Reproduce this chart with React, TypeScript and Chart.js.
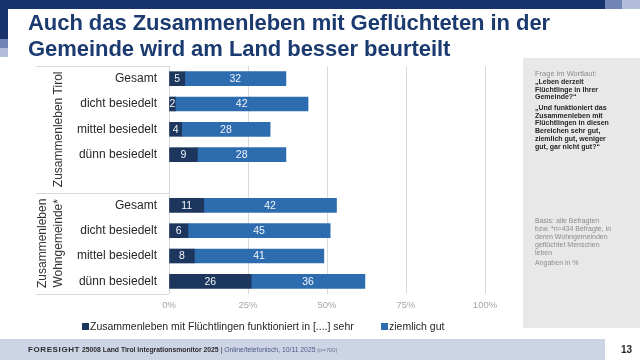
import React, { useEffect, useRef } from "react";
import { Chart, registerables } from "chart.js";

Chart.register(...registerables);

const categories = [
  "Gesamt",
  "dicht besiedelt",
  "mittel besiedelt",
  "dünn besiedelt",
  "",
  "Gesamt",
  "dicht besiedelt",
  "mittel besiedelt",
  "dünn besiedelt",
];
const sehrGut = [5, 2, 4, 9, null, 11, 6, 8, 26];
const ziemlichGut = [32, 42, 28, 28, null, 42, 45, 41, 36];
const seriesNames = [
  "Zusammenleben mit Flüchtlingen funktioniert in [....] sehr",
  "ziemlich gut",
];
const xTickValues = [0, 25, 50, 75, 100];
const groupLabels = [["Zusammenleben Tirol"], ["Zusammenleben", "Wohngemeinde*"]];
const titleLines = [
  "Auch das Zusammenleben mit Geflüchteten in der",
  "Gemeinde wird am Land besser beurteilt",
];
const frageLabel = "Frage im Wortlaut:";
const frage1 = ["„Leben derzeit", "Flüchtlinge in Ihrer", "Gemeinde?“"];
const frage2 = [
  "„Und funktioniert das",
  "Zusammenleben mit",
  "Flüchtlingen in diesen",
  "Bereichen sehr gut,",
  "ziemlich gut, weniger",
  "gut, gar nicht gut?“",
];
const basisLines = [
  "Basis: alle Befragten",
  "bzw. *n=434 Befragte, in",
  "deren Wohngemeinden",
  "geflüchtet Menschen",
  "leben",
];
const angaben = "Angaben in %";
const pageNumber = "13";

const FONT = "'Liberation Sans', Arial, sans-serif";
const DARK = "#1c365d";
const BLUE = "#2e6cb0";
const GRID = "#d9d9d9";

const overlayPlugin = {
  id: "overlay",
  afterDatasetsDraw(chart: any) {
    const ctx = chart.ctx as CanvasRenderingContext2D;
    ctx.save();
    // value labels
    ctx.font = `10.5px ${FONT}`;
    ctx.fillStyle = "#f2f5fa";
    ctx.textAlign = "center";
    ctx.textBaseline = "middle";
    chart.data.datasets.forEach((ds: any, di: number) => {
      const meta = chart.getDatasetMeta(di);
      meta.data.forEach((bar: any, i: number) => {
        const v = ds.data[i];
        if (v == null) return;
        const p = bar.getProps(["x", "base", "y"], true);
        ctx.fillText(String(v), (p.x + p.base) / 2, p.y + 0.5);
      });
    });

    // label box
    const { top, bottom, left } = chart.chartArea;
    const ys = chart.scales.y;
    const div = (ys.getPixelForValue(4) + ys.getPixelForValue(5)) / 2;
    ctx.strokeStyle = GRID;
    ctx.lineWidth = 1;
    const bx = 36;
    [top, div, bottom].forEach((yy) => {
      const y = Math.round(yy) + 0.5;
      ctx.beginPath();
      ctx.moveTo(bx, y);
      ctx.lineTo(left, y);
      ctx.stroke();
    });

    // group labels (rotated)
    ctx.fillStyle = "#333333";
    ctx.font = `12px ${FONT}`;
    const centers = [(top + div) / 2, (div + bottom) / 2];
    const colX = [[58.5], [43, 58.5]];
    groupLabels.forEach((lines, gi) => {
      lines.forEach((txt, li) => {
        ctx.save();
        ctx.translate(colX[gi][li], centers[gi]);
        ctx.rotate(-Math.PI / 2);
        ctx.fillText(txt, 0, 0);
        ctx.restore();
      });
    });
    ctx.restore();
  },
};

function ChartCanvas() {
  const ref = useRef<HTMLCanvasElement | null>(null);
  useEffect(() => {
    if (!ref.current) return;
    const chart = new Chart(ref.current, {
      type: "bar",
      data: {
        labels: categories,
        datasets: [
          {
            label: seriesNames[0],
            data: sehrGut,
            backgroundColor: DARK,
            barThickness: 14,
          },
          {
            label: seriesNames[1],
            data: ziemlichGut,
            backgroundColor: BLUE,
            barThickness: 14,
          },
        ],
      },
      options: {
        indexAxis: "y",
        responsive: false,
        animation: false,
        layout: { padding: { left: 0, right: 155, top: 66, bottom: 0 } },
        plugins: {
          legend: { display: false },
          tooltip: { enabled: false },
        },
        scales: {
          x: {
            stacked: true,
            min: 0,
            max: 100,
            afterBuildTicks: (s: any) => {
              s.ticks = xTickValues.map((v) => ({ value: v }));
            },
            ticks: {
              callback: (v: any) => `${v}%`,
              color: "#a6a6a6",
              font: { size: 9.5, family: FONT },
              padding: 6,
            },
            grid: { color: GRID, drawTicks: false, tickLength: 0 },
            border: { display: false },
            afterFit: (s: any) => {
              s.height = 66;
            },
          },
          y: {
            stacked: true,
            grid: { display: false, drawTicks: false, tickLength: 0 },
            border: { display: false },
            ticks: {
              color: "#262626",
              font: { size: 12, family: FONT },
              padding: 12,
              autoSkip: false,
            },
            afterFit: (s: any) => {
              s.width = 169;
            },
          },
        },
      } as any,
      plugins: [overlayPlugin],
    });
    return () => chart.destroy();
  }, []);
  return (
    <canvas
      ref={ref}
      width={640}
      height={360}
      style={{ position: "absolute", left: 0, top: 0, width: 640, height: 360 }}
    />
  );
}

const abs = (s: React.CSSProperties): React.CSSProperties => ({ position: "absolute", ...s });

export default function App() {
  return (
    <div
      style={{
        position: "fixed",
        left: 0,
        top: 0,
        width: 640,
        height: 360,
        overflow: "hidden",
        background: "#ffffff",
        fontFamily: FONT,
      }}
    >
      {/* decorations */}
      <div style={abs({ left: 0, top: 0, width: 605, height: 9, background: "#18336b" })} />
      <div style={abs({ left: 605, top: 0, width: 17, height: 9, background: "#7085b5" })} />
      <div style={abs({ left: 622, top: 0, width: 18, height: 9, background: "#b3bedb" })} />
      <div style={abs({ left: 0, top: 0, width: 8, height: 39, background: "#18336b" })} />
      <div style={abs({ left: 0, top: 39, width: 8, height: 9, background: "#7085b5" })} />
      <div style={abs({ left: 0, top: 48, width: 8, height: 9, background: "#b3bedb" })} />

      {/* right panel */}
      <div style={abs({ left: 523, top: 58, width: 117, height: 270, background: "#e8e8e8" })} />

      <ChartCanvas />

      {/* title */}
      <div
        style={abs({
          left: 28,
          top: 10,
          fontSize: 22,
          lineHeight: "26px",
          fontWeight: 700,
          color: "#1b3a6f",
          whiteSpace: "nowrap",
          letterSpacing: -0.05,
        })}
      >
        {titleLines[0]}
        <br />
        {titleLines[1]}
      </div>

      {/* panel text */}
      <div style={abs({ left: 535, top: 70, fontSize: 7.5, lineHeight: "8px", color: "#8c8c8c", whiteSpace: "nowrap" })}>
        {frageLabel}
      </div>
      <div style={abs({ left: 535, top: 77.8, fontSize: 7, lineHeight: "7.8px", fontWeight: 700, color: "#262626", whiteSpace: "nowrap" })}>
        {frage1.map((l, i) => (
          <div key={i}>{l}</div>
        ))}
      </div>
      <div style={abs({ left: 535, top: 103.8, fontSize: 7, lineHeight: "7.8px", fontWeight: 700, color: "#262626", whiteSpace: "nowrap" })}>
        {frage2.map((l, i) => (
          <div key={i}>{l}</div>
        ))}
      </div>
      <div style={abs({ left: 535, top: 216.6, fontSize: 7, lineHeight: "8.2px", color: "#8c8c8c", whiteSpace: "nowrap" })}>
        {basisLines.map((l, i) => (
          <div key={i}>{l}</div>
        ))}
      </div>
      <div style={abs({ left: 535, top: 259, fontSize: 7, lineHeight: "8px", color: "#8c8c8c", whiteSpace: "nowrap" })}>
        {angaben}
      </div>

      {/* legend */}
      <div style={abs({ left: 82, top: 322.5, width: 7, height: 7, background: DARK })} />
      <div style={abs({ left: 90, top: 320, fontSize: 10.5, lineHeight: "12px", color: "#262626", whiteSpace: "nowrap" })}>
        {seriesNames[0]}
      </div>
      <div style={abs({ left: 381, top: 322.5, width: 7, height: 7, background: BLUE })} />
      <div style={abs({ left: 389, top: 320, fontSize: 10.5, lineHeight: "12px", color: "#262626", whiteSpace: "nowrap" })}>
        {seriesNames[1]}
      </div>

      {/* footer */}
      <div style={abs({ left: 0, top: 339, width: 605, height: 21, background: "#cdd4e6" })} />
      <div style={abs({ left: 28, top: 344.5, fontSize: 6.8, lineHeight: "10px", color: "#2b2b2b", whiteSpace: "nowrap" })}>
        <span style={{ fontWeight: 700, fontSize: 8, letterSpacing: 0.6 }}>FORESIGHT</span>{" "}
        <span style={{ fontWeight: 700 }}>25008 Land Tirol Integrationsmonitor 2025</span>
        <span> | </span>
        <span style={{ color: "#4a5a80" }}>Online/telefonisch, 10/11 2025 </span>
        <span style={{ color: "#6a7490", fontSize: 5.8 }}>(n=700)</span>
      </div>
      <div style={abs({ left: 621, top: 344, fontSize: 10, lineHeight: "12px", fontWeight: 700, color: "#262626" })}>
        {pageNumber}
      </div>
    </div>
  );
}
